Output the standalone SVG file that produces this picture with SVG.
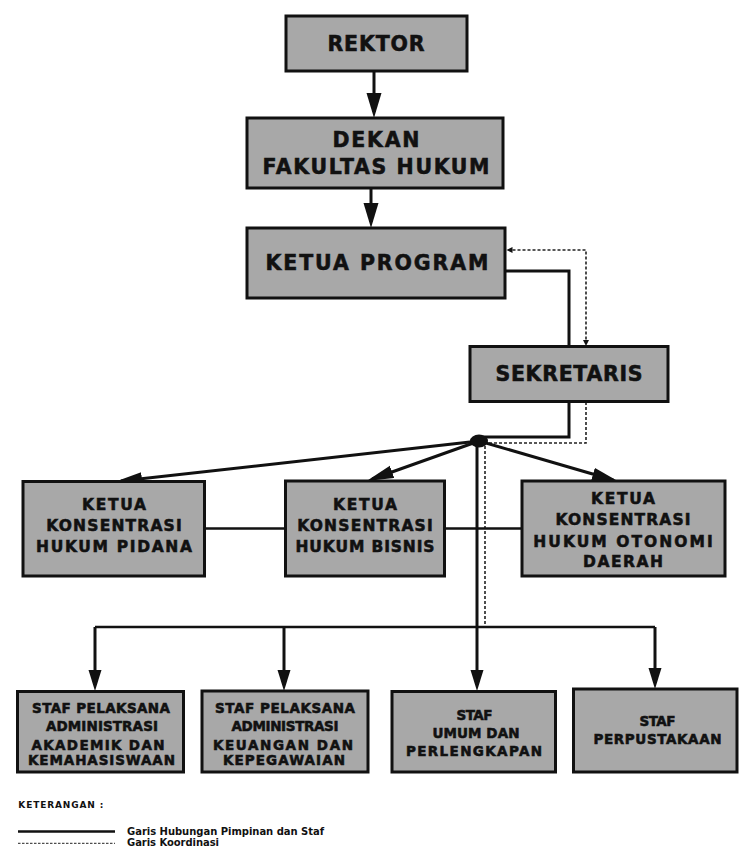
<svg xmlns="http://www.w3.org/2000/svg" width="753" height="865" viewBox="0 0 753 865">
<style>
.box{fill:#a8a8a8;stroke:#111;stroke-width:3}
.t{font-family:"DejaVu Sans","Liberation Sans",sans-serif;font-weight:bold;fill:#111;stroke:#111;stroke-width:0.55;text-anchor:middle}
.big{font-size:20.5px}
.mid{font-size:15.5px}
.sm{font-size:13.5px}
.ln{fill:none;stroke:#111;stroke-width:3}
.ln2{fill:none;stroke:#111;stroke-width:2.5}
.dash{fill:none;stroke:#222;stroke-width:1.6;stroke-dasharray:3 2}
.lg{font-family:"DejaVu Sans","Liberation Sans",sans-serif;font-weight:bold;fill:#111}
</style>
<defs>
<marker id="aL" markerUnits="userSpaceOnUse" markerWidth="26" markerHeight="16" refX="19" refY="7.5" orient="auto"><path d="M0,0 L25,7.5 L0,15 z" fill="#111"/></marker>
<marker id="aM" markerUnits="userSpaceOnUse" markerWidth="28" markerHeight="14" refX="21" refY="6.5" orient="auto"><path d="M0,0 L27,6.5 L0,13 z" fill="#111"/></marker>
<marker id="aS" markerUnits="userSpaceOnUse" markerWidth="22" markerHeight="14" refX="15" refY="6.5" orient="auto"><path d="M0,0 L21,6.5 L0,13 z" fill="#111"/></marker>
<marker id="aD" markerUnits="userSpaceOnUse" markerWidth="7" markerHeight="7" refX="0" refY="3" orient="auto-start-reverse"><path d="M0,0 L6,3 L0,6 z" fill="#111"/></marker>
</defs>

<g id="connectors">
<path class="ln" d="M374,71 V112" marker-end="url(#aL)"/>
<path class="ln" d="M371,188 V222" marker-end="url(#aL)"/>
<path class="ln" d="M505,271 H569 V346"/>
<path class="dash" d="M512.5,250 H586 V340" marker-start="url(#aD)" marker-end="url(#aD)"/>
<path class="ln" d="M569,402 V437 H483"/>
<path class="dash" d="M586,402 V443 H485 V627"/>
<path class="ln" d="M479,441 L121,481" marker-end="url(#aM)"/>
<path class="ln" d="M479,441 L372.3,479" marker-end="url(#aM)"/>
<path class="ln" d="M479,441 L613.2,480" marker-end="url(#aM)"/>
<path class="ln2" d="M204.5,528.5 H285.5"/>
<path class="ln2" d="M444.5,528.5 H522"/>
<path class="ln" d="M477,441 V685" marker-end="url(#aS)"/>
<path class="ln2" d="M95,627 H655"/>
<path class="ln" d="M95,627 V685" marker-end="url(#aS)"/>
<path class="ln" d="M284,627 V685" marker-end="url(#aS)"/>
<path class="ln" d="M655,627 V683" marker-end="url(#aS)"/>
<ellipse cx="479" cy="441" rx="9" ry="6.5" fill="#111"/>
</g>

<g id="rektor">
<rect class="box" x="286" y="16" width="181" height="55"/>
<text class="t big" x="376" y="51" textLength="97" lengthAdjust="spacing">REKTOR</text>
</g>
<g id="dekan">
<rect class="box" x="247" y="118" width="256" height="70"/>
<text class="t big" x="376" y="147" textLength="87" lengthAdjust="spacing">DEKAN</text>
<text class="t big" x="376" y="174" textLength="227" lengthAdjust="spacing">FAKULTAS HUKUM</text>
</g>
<g id="ketua-program">
<rect class="box" x="247" y="228" width="258" height="70"/>
<text class="t big" x="377" y="270" textLength="223" lengthAdjust="spacing">KETUA PROGRAM</text>
</g>
<g id="sekretaris">
<rect class="box" x="470" y="346.5" width="198" height="55"/>
<text class="t big" x="569" y="381" textLength="147" lengthAdjust="spacing">SEKRETARIS</text>
</g>

<g id="kk-pidana">
<rect class="box" x="23" y="481.5" width="181.5" height="94.5"/>
<text class="t mid" x="114" y="509.5" textLength="64" lengthAdjust="spacing">KETUA</text>
<text class="t mid" x="114" y="531" textLength="135.5" lengthAdjust="spacing">KONSENTRASI</text>
<text class="t mid" x="114" y="552" textLength="156" lengthAdjust="spacing">HUKUM PIDANA</text>
</g>
<g id="kk-bisnis">
<rect class="box" x="285.5" y="481" width="159" height="95"/>
<text class="t mid" x="365" y="509.5" textLength="64" lengthAdjust="spacing">KETUA</text>
<text class="t mid" x="365" y="531" textLength="135.5" lengthAdjust="spacing">KONSENTRASI</text>
<text class="t mid" x="365" y="552" textLength="139" lengthAdjust="spacing">HUKUM BISNIS</text>
</g>
<g id="kk-otonomi">
<rect class="box" x="522" y="481" width="203" height="95"/>
<text class="t mid" x="623" y="503.5" textLength="64" lengthAdjust="spacing">KETUA</text>
<text class="t mid" x="623" y="525" textLength="135" lengthAdjust="spacing">KONSENTRASI</text>
<text class="t mid" x="623" y="546.5" textLength="179.5" lengthAdjust="spacing">HUKUM OTONOMI</text>
<text class="t mid" x="623" y="567" textLength="80" lengthAdjust="spacing">DAERAH</text>
</g>

<g id="staf-akademik">
<rect class="box" x="17.5" y="691.5" width="166" height="80.5"/>
<text class="t sm" x="101" y="712.5" textLength="138" lengthAdjust="spacing">STAF PELAKSANA</text>
<text class="t sm" x="102" y="731" textLength="112" lengthAdjust="spacing">ADMINISTRASI</text>
<text class="t sm" x="98" y="749.5" textLength="133" lengthAdjust="spacing">AKADEMIK DAN</text>
<text class="t sm" x="101.5" y="765" textLength="147" lengthAdjust="spacing">KEMAHASISWAAN</text>
</g>
<g id="staf-keuangan">
<rect class="box" x="202" y="691" width="166" height="81"/>
<text class="t sm" x="285" y="712.5" textLength="140" lengthAdjust="spacing">STAF PELAKSANA</text>
<text class="t sm" x="285" y="731" textLength="107" lengthAdjust="spacing">ADMINISTRASI</text>
<text class="t sm" x="283" y="749.5" textLength="140" lengthAdjust="spacing">KEUANGAN DAN</text>
<text class="t sm" x="284" y="765" textLength="122" lengthAdjust="spacing">KEPEGAWAIAN</text>
</g>
<g id="staf-umum">
<rect class="box" x="392" y="691.5" width="163.5" height="80.5"/>
<text class="t sm" x="474.5" y="720" textLength="36" lengthAdjust="spacing">STAF</text>
<text class="t sm" x="476" y="738" textLength="87" lengthAdjust="spacing">UMUM DAN</text>
<text class="t sm" x="474" y="756" textLength="136" lengthAdjust="spacing">PERLENGKAPAN</text>
</g>
<g id="staf-perpustakaan">
<rect class="box" x="573.5" y="689" width="163.5" height="83"/>
<text class="t sm" x="657.5" y="726" textLength="36" lengthAdjust="spacing">STAF</text>
<text class="t sm" x="657.5" y="744" textLength="128" lengthAdjust="spacing">PERPUSTAKAAN</text>
</g>

<g id="legend">
<text class="lg" x="18.3" y="808" font-size="9" textLength="85" lengthAdjust="spacing">KETERANGAN :</text>
<path d="M18,831.5 H115" stroke="#111" stroke-width="2.5" fill="none"/>
<text class="lg" x="127" y="835" font-size="10" textLength="197" lengthAdjust="spacing">Garis Hubungan Pimpinan dan Staf</text>
<path d="M18,843.3 H115" stroke="#222" stroke-width="1" stroke-dasharray="2.5 1.5" fill="none"/>
<text class="lg" x="127" y="846" font-size="10" textLength="92" lengthAdjust="spacing">Garis Koordinasi</text>
</g>
</svg>
